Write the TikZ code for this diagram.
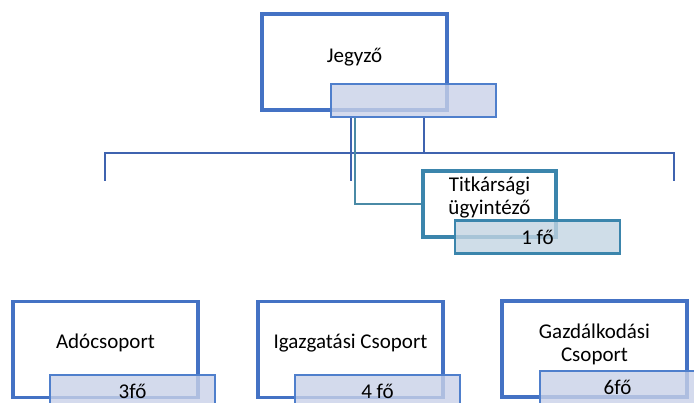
\documentclass[tikz,border=0pt]{standalone}
\usepackage{fontspec}
\setmainfont{Carlito}
\usetikzlibrary{positioning,calc}

\definecolor{unitblue}{HTML}{4472C4}
\definecolor{lineblue}{HTML}{3F63AF}
\definecolor{countblue}{HTML}{4F7FCC}
\definecolor{countfill}{HTML}{C9D1E8}
\definecolor{secteal}{HTML}{3B85AC}
\definecolor{secline}{HTML}{4A8AA6}
\definecolor{secfill}{HTML}{C3D4E2}

\begin{document}
\begin{tikzpicture}
    [ x=1pt, y=-1pt
    , font=\fontsize{21}{23}\selectfont
    , unit/.style={draw=unitblue, line width=3.6pt, fill=white, minimum width=185, minimum height=96}
    , secunit/.style={unit, draw=secteal, line width=3.3pt, minimum width=133, minimum height=66}
    , count/.style={draw=countblue, line width=2.2pt, fill=countfill, fill opacity=0.8, text opacity=1, minimum width=165, minimum height=33}
    , seccount/.style={count, draw=secteal, fill=secfill}
    , branch/.style={draw=lineblue, line width=2.4pt}
    , secbranch/.style={draw=secline, line width=2.2pt}
    ]
  \useasboundingbox (0,0) rectangle (694,403);
  \clip (0,0) rectangle (694,403);

  \coordinate (drop-l) at (105,181);
  \coordinate (drop-m) at (351,181);
  \coordinate (drop-r) at (674,181);
  \coordinate (bus-r) at (674,153);
  \coordinate (tap) at (424,153);
  \coordinate (sec-drop) at (355,204);

  \node[unit] (jegyzo) at (354.5,62) {};
  \node at ([yshift=5pt]jegyzo.center) {Jegyző};
  \node[count] (jegyzo-n) at (413.5,100.5) {};

  \node[secunit] (titk) at (489.5,204) {};
  \node[align=center] at ([yshift=6pt]titk.center) {Titkársági\\ügyintéző};
  \node[seccount] (titk-n) at (537.5,237) {1 fő};

  \draw[branch] (jegyzo-n.south -| drop-m) -- (drop-m);
  \draw[branch] (jegyzo-n.south -| tap) -- (tap);
  \draw[branch] (drop-l) |- (bus-r) -- (drop-r);
  \draw[secbranch] (jegyzo-n.south -| sec-drop) |- (titk.west);

  \node[unit] (ado) at (105.5,349.5) {};
  \node at ([yshift=6.5pt]ado.center) {Adócsoport};
  \node[count] (ado-n) at (132.5,391.5) {3fő};

  \node[unit] (igaz) at (350.5,349.5) {};
  \node at ([yshift=6.5pt]igaz.center) {Igazgatási Csoport};
  \node[count] (igaz-n) at (377.5,391.5) {4 fő};

  \node[unit] (gazd) at (594.5,349) {};
  \node[align=center] at ([yshift=4.5pt]gazd.center) {Gazdálkodási\\Csoport};
  \node[count, minimum width=155] (gazd-n) at (617.5,387.5) {6fő};
\end{tikzpicture}
\end{document}
